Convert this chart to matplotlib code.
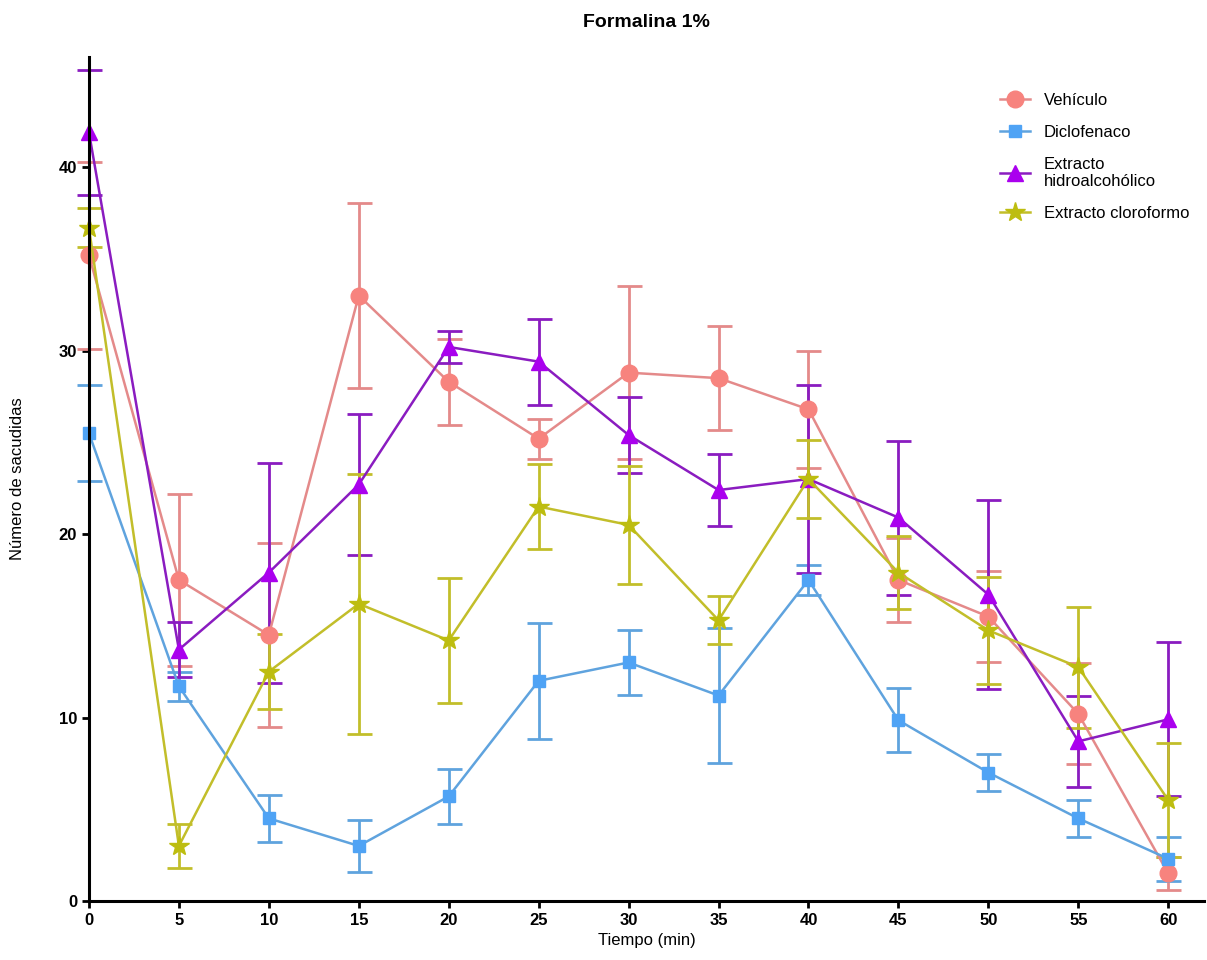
import matplotlib.pyplot as plt
from matplotlib.lines import Line2D

plt.rcParams['font.family'] = ['Liberation Sans', 'DejaVu Sans']

# tiempos (min)
tiempo = [0, 5, 10, 15, 20, 25, 30, 35, 40, 45, 50, 55, 60]

# medias y errores
vehiculo = [35.2, 17.5, 14.5, 33.0, 28.3, 25.2, 28.8, 28.5, 26.8, 17.5, 15.5, 10.2, 1.5]
vehiculo_err = [5.1, 4.7, 5.0, 5.05, 2.35, 1.1, 4.7, 2.85, 3.2, 2.3, 2.5, 2.75, 0.9]

diclofenaco = [25.5, 11.7, 4.5, 3.0, 5.7, 12.0, 13.0, 11.2, 17.5, 9.85, 7.0, 4.5, 2.3]
diclofenaco_err = [2.6, 0.8, 1.3, 1.4, 1.5, 3.15, 1.75, 3.7, 0.8, 1.75, 1.0, 1.0, 1.2]

hidroalc = [41.9, 13.7, 17.9, 22.7, 30.2, 29.4, 25.4, 22.4, 23.0, 20.9, 16.7, 8.7, 9.9]
hidroalc_err = [3.4, 1.5, 6.0, 3.85, 0.85, 2.35, 2.05, 1.95, 5.1, 4.2, 5.15, 2.5, 4.2]

cloroformo = [36.7, 3.0, 12.5, 16.2, 14.2, 21.5, 20.5, 15.3, 23.0, 17.9, 14.75, 12.75, 5.5]
cloroformo_err = [1.05, 1.2, 2.05, 7.1, 3.4, 2.3, 3.2, 1.3, 2.15, 2.0, 2.9, 3.3, 3.1]

series = [
    ('Vehículo', vehiculo, vehiculo_err, 'o', 12, '#F7837E', '#E48A8A'),
    ('Diclofenaco', diclofenaco, diclofenaco_err, 's', 9, '#4FA3F5', '#5FA3DE'),
    ('Extracto\nhidroalcohólico', hidroalc, hidroalc_err, '^', 12, '#AA00EE', '#8A1CC0'),
    ('Extracto cloroformo', cloroformo, cloroformo_err, '*', 15, '#BDBD10', '#C2BE2A'),
]

fig = plt.figure(figsize=(12.07, 9.6), dpi=100)
ax = fig.add_axes([0.0737, 0.0615, 0.924, 0.879])

handles = []
for nombre, y, err, marker, ms, mcol, lcol in series:
    cont = ax.errorbar(tiempo, y, yerr=err, fmt='-', marker=marker, markersize=ms,
                       color=lcol, markerfacecolor=mcol, markeredgecolor=mcol,
                       ecolor=lcol, elinewidth=2, capsize=9, capthick=2,
                       linewidth=1.8)
    # no recortar marcadores en x=0
    cont.lines[0].set_clip_on(False)
    for art in list(cont.lines[1]) + list(cont.lines[2]):
        art.set_clip_on(False)
    handles.append(Line2D([], [], color=lcol, marker=marker, markersize=ms,
                          markerfacecolor=mcol, markeredgecolor=mcol,
                          linewidth=1.8, label=nombre))

ax.set_xlim(0, 62)
ax.set_ylim(0, 46)
ax.set_xticks(range(0, 61, 5))
ax.set_yticks([0, 10, 20, 30, 40])
for lbl in ax.get_xticklabels() + ax.get_yticklabels():
    lbl.set_fontweight('bold')
ax.tick_params(labelsize=12, width=2, length=5)

ax.spines['top'].set_visible(False)
ax.spines['right'].set_visible(False)
ax.spines['left'].set_linewidth(2.2)
ax.spines['bottom'].set_linewidth(2.2)

ax.set_xlabel('Tiempo (min)', fontsize=12)
ax.set_ylabel('Número de sacudidas', fontsize=12, labelpad=24)
ax.set_title('Formalina 1%', fontsize=14, fontweight='bold', pad=22)

ax.legend(handles=handles, loc='upper right', bbox_to_anchor=(1.0, 0.975),
          frameon=False, fontsize=12, handlelength=1.8, labelspacing=1.0)

plt.savefig('out.png', dpi=100)
